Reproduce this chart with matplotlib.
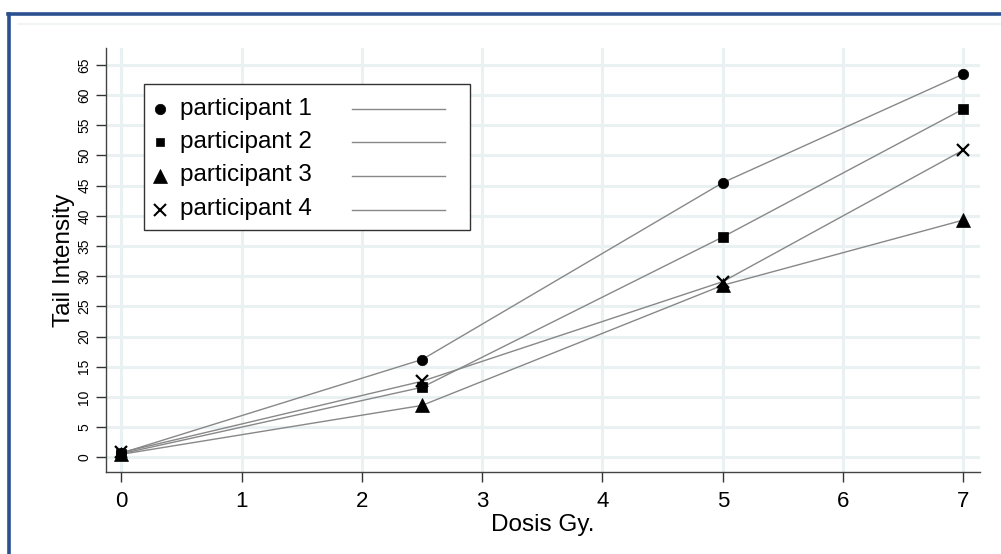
import matplotlib
matplotlib.use("Agg")
import matplotlib.pyplot as plt
from matplotlib.patches import Rectangle
from matplotlib.lines import Line2D

plt.rcParams['font.family'] = ['Liberation Sans', 'DejaVu Sans']

dose = [0, 2.5, 5, 7]
participant_1 = [0.7, 16.2, 45.5, 63.5]
participant_2 = [0.6, 11.6, 36.5, 57.7]
participant_3 = [0.5, 8.6, 28.5, 39.3]
participant_4 = [0.8, 12.6, 29.1, 50.9]
labels = ["participant 1", "participant 2", "participant 3", "participant 4"]
markers = ["o", "s", "^", "x"]
msizes = [7.5, 7.5, 10.5, 9]
leg_msizes = [7.5, 6, 10.5, 9]
xticks = [0, 1, 2, 3, 4, 5, 6, 7]
yticks = list(range(0, 70, 5))

W, H = 1001, 554
fig = plt.figure(figsize=(W / 100, H / 100), dpi=100)

def px(x0, y0, x1, y1):
    return [x0 / W, 1 - y1 / H, (x1 - x0) / W, (y1 - y0) / H]

# outer frame
fig.add_artist(Line2D([9 / W, 9 / W], [0, 1 - 13.5 / H], color="#2b5090", lw=2.6))
fig.add_artist(Line2D([8 / W, 1], [1 - 14 / H, 1 - 14 / H], color="#2b5090", lw=2.6))
fig.add_artist(Line2D([18 / W, 1], [1 - 23.5 / H, 1 - 23.5 / H], color="#eef2f4", lw=1.2))

ax = fig.add_axes(px(106, 48, 980, 472))
series = [participant_1, participant_2, participant_3, participant_4]
for vals, m, ms in zip(series, markers, msizes):
    ax.plot(dose, vals, color="#888888", lw=1.0, zorder=2)
    ax.plot(dose, vals, linestyle="none", marker=m, ms=ms, color="black",
            mec="black", mew=1.6 if m == "x" else 0.5, zorder=3)

ax.set_xlim(-0.127, 7.138)
ax.set_ylim(-2.43, 67.8)
ax.set_xticks(xticks)
ax.set_yticks(yticks)
ax.grid(True, color="#e9f1f3", lw=2.2, zorder=0)
ax.set_axisbelow(True)
for s in ["top", "right"]:
    ax.spines[s].set_visible(False)
for s in ["left", "bottom"]:
    ax.spines[s].set_color("#444444")
    ax.spines[s].set_linewidth(1.0)
ax.tick_params(axis="x", direction="out", length=7.5, width=1, color="#333333",
               labelsize=16, pad=6)
ax.tick_params(axis="y", direction="out", length=7.5, width=1, color="#333333",
               labelsize=10, pad=3)
for lbl in ax.get_yticklabels():
    lbl.set_rotation(90)
    lbl.set_va("center")
ax.set_xlabel("Dosis Gy.", fontsize=17.5)
ax.set_ylabel("Tail Intensity", fontsize=17.5)
ax.xaxis.set_label_coords(0.5, -0.098)
ax.yaxis.set_label_coords(-0.036, 0.5)

# legend (markers left, lines right)
lax = fig.add_axes(px(143, 83, 470, 230))
lax.set_xlim(143, 470)
lax.set_ylim(230, 83)
lax.axis("off")
frame = Rectangle((143.5, 83.5), 326, 146, fill=True, fc="white",
                  ec="#333333", lw=1.0, clip_on=False)
lax.add_patch(frame)
rows = [108.5, 142, 175.5, 209.5]
for yy, lab, m, ms in zip(rows, labels, markers, leg_msizes):
    lax.plot([159.5], [yy], marker=m, ms=ms, color="black",
             mew=1.5 if m == "x" else 0.5, linestyle="none", clip_on=False)
    lax.text(180, yy, lab, fontsize=17.5, va="center", ha="left")
    lax.plot([352, 445], [yy, yy], color="#888888", lw=1.0)

fig.savefig("out.png", dpi=100)
